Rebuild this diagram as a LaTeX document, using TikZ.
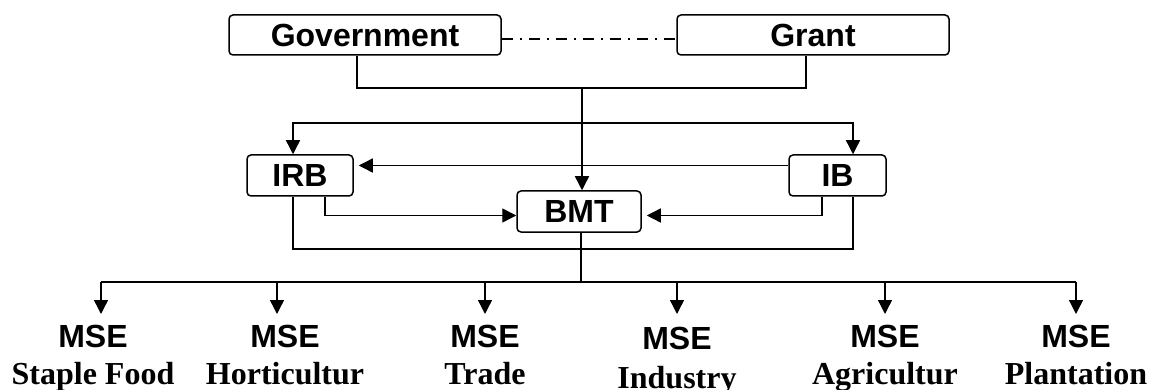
\documentclass[tikz,border=0pt]{standalone}
\usepackage{fontspec}
\setmainfont{Liberation Serif}
\setsansfont{Liberation Sans}
\usetikzlibrary{arrows.meta,positioning}
\tikzstyle{box} = [draw, line width=1.5pt, rounded corners=4pt, inner sep=0pt, font=\sffamily\bfseries\fontsize{32}{37}\selectfont]
\tikzstyle{flow} = [line width=1.4pt, -{Triangle[length=14pt,width=14pt]}]
\tikzstyle{wire} = [line width=1.4pt]
\tikzstyle{mse} = [align=center, inner sep=0pt, anchor=north, font=\bfseries\fontsize{32}{37}\selectfont]

\begin{document}
\begin{tikzpicture}[x=1pt,y=-1pt]
\useasboundingbox (0,0) rectangle (1153,390);

\node[box, minimum width=272pt, minimum height=40pt] (gov) at (365,35) {Government};
\node[box, minimum width=272pt, minimum height=40pt] (grant) at (813,35) {Grant};
\node[box, minimum width=106pt, minimum height=41pt] (irb) at (300,175.5) {IRB};
\node[box, minimum width=97pt, minimum height=41pt] (ib) at (837.5,175.5) {IB};
\node[box, minimum width=124pt, minimum height=41pt] (bmt) at (579,211.5) {BMT};

\node[mse] (mse1) at (93,325) {\textsf{MSE}\\{\fontsize{32}{37}\selectfont Staple Food}};
\node[mse] (mse2) at (285,325) {\textsf{MSE}\\{\fontsize{32}{37}\selectfont Horticultur}};
\node[mse] (mse3) at (485,325) {\textsf{MSE}\\{\fontsize{32}{37}\selectfont Trade}};
\node[mse] (mse4) at (677,327) {\textsf{MSE}\\[2pt]{\fontsize{32}{37}\selectfont Industry}};
\node[mse] (mse5) at (885,325) {\textsf{MSE}\\{\fontsize{32}{37}\selectfont Agricultur}};
\node[mse] (mse6) at (1076,325) {\textsf{MSE}\\{\fontsize{32}{37}\selectfont Plantation}};

\coordinate (join) at (582,88);
\coordinate (split) at (582,123);
\coordinate (loop) at (582,249);
\coordinate (bus) at (581,282);

% top level
\draw[line width=1.3pt, dash pattern=on 11pt off 7pt on 2pt off 7pt] ([yshift=-4pt]gov.east) -- ([yshift=-4pt]grant.west);
\draw[wire] ([xshift=-8pt]gov.south) |- (join) -| ([xshift=-7pt]grant.south);
\draw[flow] (join) -- (join |- bmt.north);
\draw[flow] (split) -| ([xshift=-7pt]irb.north);
\draw[flow] (split) -| ([xshift=15.5pt]ib.north);

% middle level
\draw[flow, shorten >=5pt] ([yshift=10pt]ib.west) -- ([yshift=10pt]irb.east);
\draw[flow] ([xshift=25pt]irb.south) |- ([yshift=-4pt]bmt.west);
\draw[flow, shorten >=5pt] ([xshift=-15.5pt]ib.south) |- ([yshift=-4pt]bmt.east);
\draw[wire] ([xshift=-7pt]irb.south) |- (loop) -| ([xshift=15.5pt]ib.south);
\draw[wire] (bus |- bmt.south) -- (bus);

% enterprises
\draw[line width=1.6pt] ([xshift=8pt]mse1.north |- bus) -- (mse6.north |- bus);
\draw[flow, shorten >=11pt] ([xshift=8pt]mse1.north |- bus) -- ([xshift=8pt]mse1.north);
\draw[flow, shorten >=11pt] ([xshift=-8pt]mse2.north |- bus) -- ([xshift=-8pt]mse2.north);
\draw[flow, shorten >=11pt] (mse3.north |- bus) -- (mse3.north);
\draw[flow, shorten >=13pt] (mse4.north |- bus) -- (mse4.north);
\draw[flow, shorten >=11pt] (mse5.north |- bus) -- (mse5.north);
\draw[flow, shorten >=11pt] (mse6.north |- bus) -- (mse6.north);

\end{tikzpicture}
\end{document}
